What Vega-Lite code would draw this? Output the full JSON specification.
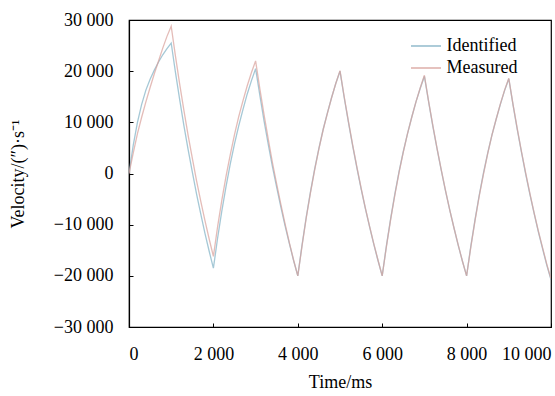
{
  "$schema": "https://vega.github.io/schema/vega-lite/v6.json",
  "autosize": "none",
  "width": 422,
  "height": 307,
  "padding": {"left": 129, "top": 20, "right": 4, "bottom": 69},
  "background": "white",
  "config": {
    "locale": {"number": {"decimal": ".", "thousands": " ", "grouping": [3], "currency": ["", ""], "minus": "−"}},
    "view": {"stroke": "black", "strokeWidth": 1.2},
    "font": "Liberation Serif",
    "axis": {
      "labelFont": "Liberation Serif", "titleFont": "Liberation Serif",
      "labelFontSize": 18, "titleFontSize": 18, "titleFontWeight": "normal",
      "labelColor": "black", "titleColor": "black",
      "domainColor": "black", "tickColor": "black", "domainWidth": 1.2, "tickWidth": 1,
      "grid": false, "tickSize": -4
    },
    "legend": {"labelFont": "Liberation Serif", "labelFontSize": 18, "labelColor": "black"}
  },
  "data": {"values": [
    {"t":0,"Identified":0,"Measured":0},
    {"t":100,"Identified":5500,"Measured":4000},
    {"t":200,"Identified":10000,"Measured":7800},
    {"t":300,"Identified":13500,"Measured":11000},
    {"t":400,"Identified":16300,"Measured":14000},
    {"t":500,"Identified":18400,"Measured":16800},
    {"t":600,"Identified":20200,"Measured":19500},
    {"t":700,"Identified":21800,"Measured":22000},
    {"t":800,"Identified":23200,"Measured":24500},
    {"t":900,"Identified":24400,"Measured":26800},
    {"t":1000,"Identified":25500,"Measured":28800},
    {"t":1100,"Identified":19800,"Measured":23000},
    {"t":1200,"Identified":14500,"Measured":17500},
    {"t":1300,"Identified":9400,"Measured":12400},
    {"t":1400,"Identified":4700,"Measured":7500},
    {"t":1500,"Identified":300,"Measured":3000},
    {"t":1600,"Identified":-4000,"Measured":-1400},
    {"t":1700,"Identified":-7900,"Measured":-5400},
    {"t":1800,"Identified":-11700,"Measured":-9200},
    {"t":1900,"Identified":-15200,"Measured":-12800},
    {"t":2000,"Identified":-18500,"Measured":-16200},
    {"t":2100,"Identified":-12600,"Measured":-10400},
    {"t":2200,"Identified":-7300,"Measured":-5200},
    {"t":2300,"Identified":-2500,"Measured":-500},
    {"t":2400,"Identified":1900,"Measured":3700},
    {"t":2500,"Identified":5800,"Measured":7600},
    {"t":2600,"Identified":9300,"Measured":11100},
    {"t":2700,"Identified":12500,"Measured":14200},
    {"t":2800,"Identified":15500,"Measured":17100},
    {"t":2900,"Identified":18100,"Measured":19700},
    {"t":3000,"Identified":20500,"Measured":22000},
    {"t":3100,"Identified":15300,"Measured":16600},
    {"t":3200,"Identified":10300,"Measured":11500},
    {"t":3300,"Identified":5700,"Measured":6700},
    {"t":3400,"Identified":1300,"Measured":2100},
    {"t":3500,"Identified":-2700,"Measured":-2100},
    {"t":3600,"Identified":-6600,"Measured":-6100},
    {"t":3700,"Identified":-10300,"Measured":-9900},
    {"t":3800,"Identified":-13700,"Measured":-13500},
    {"t":3900,"Identified":-17000,"Measured":-16900},
    {"t":4000,"Identified":-20000,"Measured":-20000},
    {"t":4100,"Identified":-14000,"Measured":-14200},
    {"t":4200,"Identified":-8500,"Measured":-8700},
    {"t":4300,"Identified":-3600,"Measured":-3800},
    {"t":4400,"Identified":900,"Measured":700},
    {"t":4500,"Identified":4900,"Measured":4800},
    {"t":4600,"Identified":8600,"Measured":8500},
    {"t":4700,"Identified":11800,"Measured":11700},
    {"t":4800,"Identified":14800,"Measured":14800},
    {"t":4900,"Identified":17600,"Measured":17600},
    {"t":5000,"Identified":20000,"Measured":20100},
    {"t":5100,"Identified":14800,"Measured":15000},
    {"t":5200,"Identified":10000,"Measured":10200},
    {"t":5300,"Identified":5400,"Measured":5600},
    {"t":5400,"Identified":1100,"Measured":1300},
    {"t":5500,"Identified":-3000,"Measured":-2800},
    {"t":5600,"Identified":-6800,"Measured":-6700},
    {"t":5700,"Identified":-10400,"Measured":-10300},
    {"t":5800,"Identified":-13800,"Measured":-13700},
    {"t":5900,"Identified":-17000,"Measured":-16900},
    {"t":6000,"Identified":-20000,"Measured":-20000},
    {"t":6100,"Identified":-14100,"Measured":-14300},
    {"t":6200,"Identified":-8800,"Measured":-9000},
    {"t":6300,"Identified":-4000,"Measured":-4200},
    {"t":6400,"Identified":400,"Measured":200},
    {"t":6500,"Identified":4300,"Measured":4200},
    {"t":6600,"Identified":7800,"Measured":7800},
    {"t":6700,"Identified":11000,"Measured":11000},
    {"t":6800,"Identified":14000,"Measured":14000},
    {"t":6900,"Identified":16600,"Measured":16700},
    {"t":7000,"Identified":19000,"Measured":19200},
    {"t":7100,"Identified":14000,"Measured":14100},
    {"t":7200,"Identified":9200,"Measured":9400},
    {"t":7300,"Identified":4800,"Measured":4900},
    {"t":7400,"Identified":600,"Measured":700},
    {"t":7500,"Identified":-3400,"Measured":-3300},
    {"t":7600,"Identified":-7100,"Measured":-7100},
    {"t":7700,"Identified":-10600,"Measured":-10600},
    {"t":7800,"Identified":-14000,"Measured":-13900},
    {"t":7900,"Identified":-17100,"Measured":-17100},
    {"t":8000,"Identified":-20000,"Measured":-20000},
    {"t":8100,"Identified":-14200,"Measured":-14400},
    {"t":8200,"Identified":-9000,"Measured":-9200},
    {"t":8300,"Identified":-4200,"Measured":-4400},
    {"t":8400,"Identified":100,"Measured":-100},
    {"t":8500,"Identified":4000,"Measured":3900},
    {"t":8600,"Identified":7500,"Measured":7500},
    {"t":8700,"Identified":10600,"Measured":10600},
    {"t":8800,"Identified":13500,"Measured":13600},
    {"t":8900,"Identified":16200,"Measured":16300},
    {"t":9000,"Identified":18500,"Measured":18600},
    {"t":9100,"Identified":13400,"Measured":13500},
    {"t":9200,"Identified":8600,"Measured":8800},
    {"t":9300,"Identified":4200,"Measured":4300},
    {"t":9400,"Identified":-100,"Measured":100},
    {"t":9500,"Identified":-4100,"Measured":-3900},
    {"t":9600,"Identified":-7800,"Measured":-7700},
    {"t":9700,"Identified":-11400,"Measured":-11200},
    {"t":9800,"Identified":-14700,"Measured":-14500},
    {"t":9900,"Identified":-17900,"Measured":-17700},
    {"t":10000,"Identified":-20800,"Measured":-20600}
  ]},
  "transform": [{"fold": ["Identified", "Measured"], "as": ["series", "v"]}],
  "mark": {"type": "line", "strokeWidth": 1.3, "opacity": 0.7, "clip": true},
  "encoding": {
    "x": {"field": "t", "type": "quantitative",
      "scale": {"domain": [0, 10000], "nice": false},
      "axis": {"values": [0, 2000, 4000, 6000, 8000, 10000], "format": ",d", "title": "Time/ms", "labelPadding": 22, "titlePadding": 10}},
    "y": {"field": "v", "type": "quantitative",
      "scale": {"domain": [-30000, 30000], "nice": false},
      "axis": {"values": [-30000, -20000, -10000, 0, 10000, 20000, 30000], "format": ",d", "title": "Velocity/(″)·s⁻¹", "labelPadding": 20, "titlePadding": 26}},
    "color": {"field": "series", "type": "nominal",
      "scale": {"domain": ["Identified", "Measured"], "range": ["#7fb0c4", "#d8a09a"]},
      "legend": {"title": null, "orient": "none", "legendX": 288, "legendY": 17, "symbolType": "M-2,0H2", "symbolSize": 225, "symbolStrokeWidth": 1.6, "symbolOpacity": 0.8, "symbolFillColor": "transparent", "labelOffset": 11.5, "rowPadding": 4}}
  }
}
